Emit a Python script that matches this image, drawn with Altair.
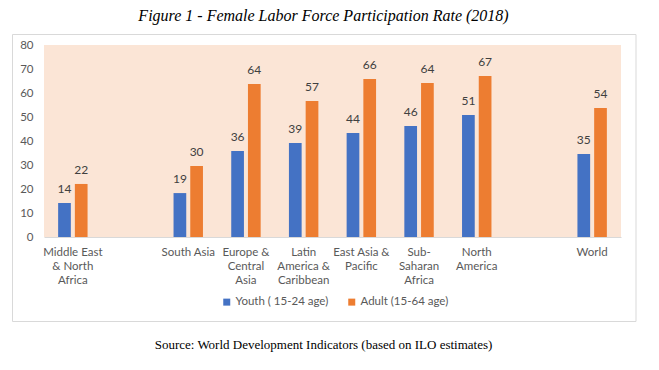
import altair as alt
import pandas as pd

# ---- data ----
categories = ["Middle East|& North|Africa", " ", "South Asia", "Europe &|Central|Asia",
              "Latin|America &|Caribbean", "East Asia &|Pacific", "Sub-|Saharan|Africa",
              "North|America", "  ", "World"]
regions = [c for c in categories if c.strip()]
youth = [14.2, 18.3, 35.8, 39.2, 43.3, 46.2, 50.8, 34.6]
adult = [22.1, 29.6, 63.7, 56.7, 65.8, 64.2, 67.1, 53.7]
youth_labels = ["14", "19", "36", "39", "44", "46", "51", "35"]
adult_labels = ["22", "30", "64", "57", "66", "64", "67", "54"]
series = ["Youth ( 15-24 age)", "Adult (15-64 age)"]
colors = ["#4472C4", "#ED7D31"]
y_ticks = [0, 10, 20, 30, 40, 50, 60, 70, 80]
title_text = "Figure 1 - Female Labor Force Participation Rate (2018)"
source_text = "Source: World Development Indicators (based on ILO estimates)"

rows = []
for r, v, l in zip(regions, youth, youth_labels):
    rows.append({"region": r, "series": series[0], "value": v, "label": l})
for r, v, l in zip(regions, adult, adult_labels):
    rows.append({"region": r, "series": series[1], "value": v, "label": l})
df = pd.DataFrame(rows)

FONT = "Lato"

x_enc = alt.X("region:N",
              scale=alt.Scale(domain=categories, paddingInner=0.49, paddingOuter=0.245),
              sort=categories,
              axis=alt.Axis(title=None, labelAngle=0, ticks=False, domainColor="#D9D9D9",
                            labelExpr="split(datum.label, '|')", labelLineHeight=14.4,
                            labelPadding=9, labelColor="#595959", labelFontSize=11.5,
                            labelFont=FONT, labelOverlap=False, labelLimit=0))
xo_enc = alt.XOffset("series:N", scale=alt.Scale(domain=series, paddingInner=0.24))
y_enc = alt.Y("value:Q", scale=alt.Scale(domain=[0, 80]),
              axis=alt.Axis(title=None, values=y_ticks, tickCount=9, grid=False, domain=False,
                            ticks=False, labelOverlap=False, labelPadding=11,
                            labelColor="#595959", labelFontSize=11.5, labelFont=FONT))

base = alt.Chart(df)

bars = base.mark_bar().encode(
    x=x_enc, xOffset=xo_enc, y=y_enc,
    color=alt.Color("series:N", scale=alt.Scale(domain=series, range=colors),
                    legend=alt.Legend(orient="none", legendX=177, legendY=251,
                                      direction="horizontal", title=None,
                                      symbolType="square", symbolSize=49,
                                      labelFontSize=11.5, labelColor="#595959",
                                      labelFont=FONT, columnPadding=17, labelOffset=3,
                                      padding=0, symbolStrokeWidth=0)),
)

labels = base.mark_text(baseline="alphabetic", dy=-10, fontSize=12, color="#404040",
                        font=FONT).encode(
    x=x_enc, xOffset=xo_enc, y=y_enc, text="label:N")

frame = alt.Chart(pd.DataFrame({"a": [0]})).mark_rect(
    fill="white", fillOpacity=0, stroke="#D9D9D9", strokeWidth=1).encode(
    x=alt.value(-31.5), x2=alt.value(592), y=alt.value(-10.5), y2=alt.value(276.5))

title = alt.Chart(pd.DataFrame({"t": [title_text]})).mark_text(
    font="Liberation Serif", fontStyle="italic", fontSize=16, color="#000000",
    align="center", baseline="alphabetic").encode(
    text="t:N", x=alt.value(279.5), y=alt.value(-24))

source = alt.Chart(pd.DataFrame({"t": [source_text]})).mark_text(
    font="Liberation Serif", fontSize=13, color="#000000",
    align="center", baseline="alphabetic").encode(
    text="t:N", x=alt.value(279.5), y=alt.value(304))

chart = alt.layer(frame, bars, labels, title, source).properties(
    width=577, height=192,
    autosize=alt.AutoSizeParams(type="none"),
    padding={"left": 36, "top": 37, "right": 30, "bottom": 120},
).configure_view(fill="#FBE5D6", stroke=None)

chart.save("out.html", embed_options={"renderer": "svg", "actions": False})
